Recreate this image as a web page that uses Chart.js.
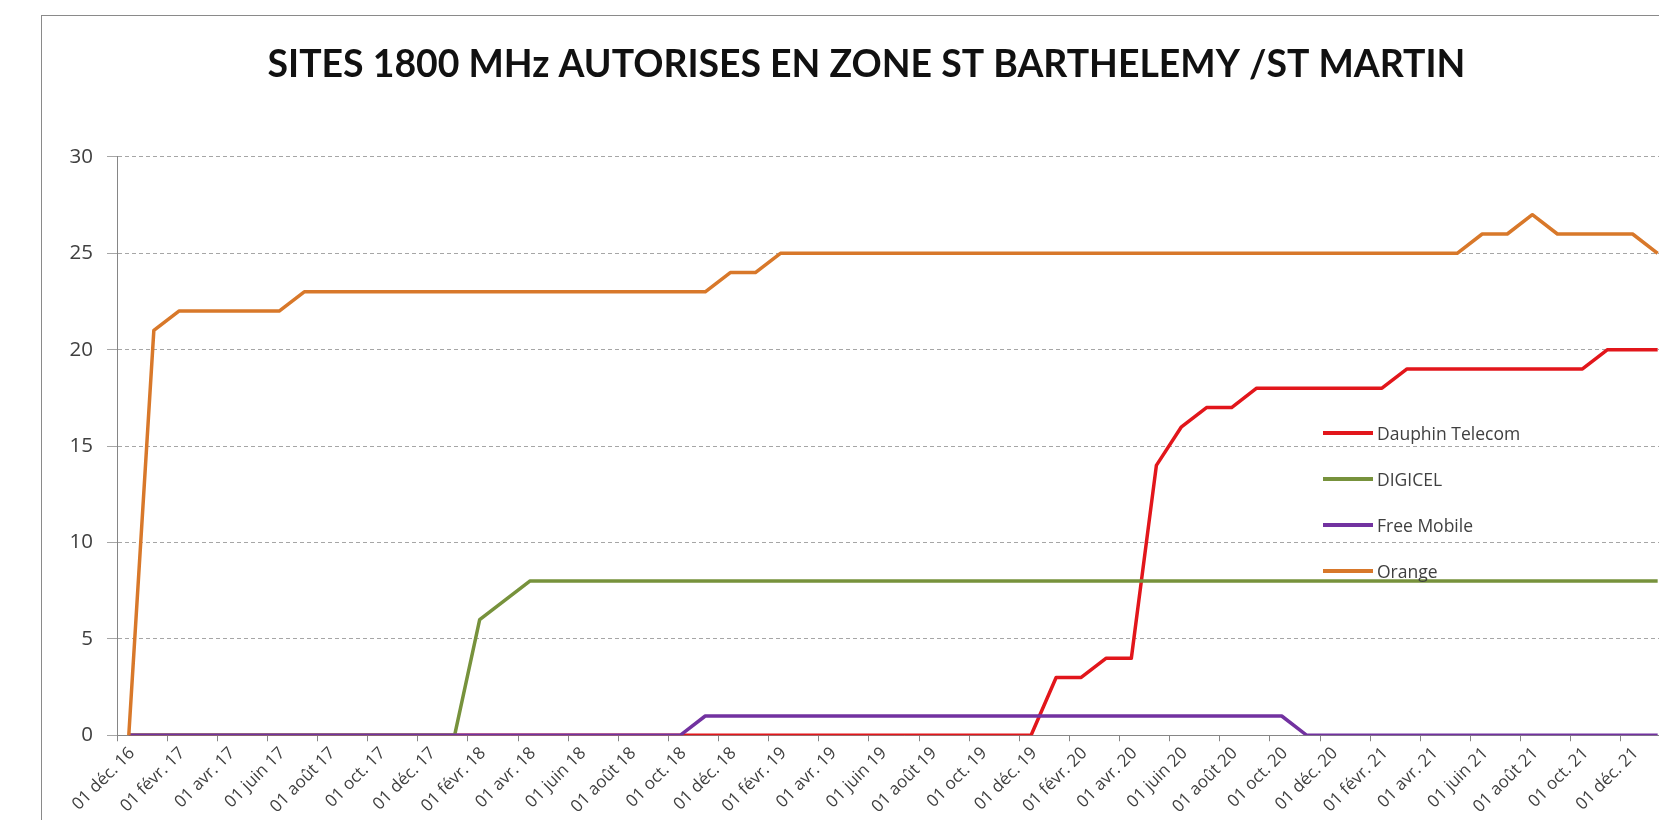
<!DOCTYPE html>
<html>
<head>
<meta charset="utf-8">
<script src="https://cdn.jsdelivr.net/npm/chart.js@4.4.1/dist/chart.umd.min.js"></script>
<style>
  html, body { margin: 0; padding: 0; background: #fff; }
  body { width: 1659px; height: 820px; overflow: hidden; position: relative; }
  #frame { position: absolute; left: 41px; top: 15px; width: 1650px; height: 830px; border: 1px solid #8a8a8a; background: #fff; }
  #legend { position: absolute; left: 1281px; top: 394px; font-family: 'Open Sans', sans-serif; font-size: 17.5px; color: #404040; }
  #legend .row { display: flex; align-items: center; height: 46px; }
  #legend .swatch { width: 50px; height: 4px; margin-right: 4px; }
</style>
</head>
<body>
<div id="frame">
  <canvas id="myChart" width="1650" height="803"></canvas>
  <div id="legend"></div>
</div>
<script>
// axis labels, one every two months
const tickLabels = [ '01 déc. 16', '01 févr. 17', '01 avr. 17', '01 juin 17', '01 août 17', '01 oct. 17',
	'01 déc. 17', '01 févr. 18', '01 avr. 18', '01 juin 18', '01 août 18', '01 oct. 18',
	'01 déc. 18', '01 févr. 19', '01 avr. 19', '01 juin 19', '01 août 19', '01 oct. 19',
	'01 déc. 19', '01 févr. 20', '01 avr. 20', '01 juin 20', '01 août 20', '01 oct. 20',
	'01 déc. 20', '01 févr. 21', '01 avr. 21', '01 juin 21', '01 août 21', '01 oct. 21',
	'01 déc. 21' ];

// monthly readings, mid-month, from déc. 16 to janv. 22
const dauphinData = [ 0, 0, 0, 0, 0, 0, 0, 0, 0, 0, 0, 0, 0, 0, 0, 0, 0, 0, 0, 0, 0, 0, 0, 0,
	0, 0, 0, 0, 0, 0, 0, 0, 0, 0, 0, 0, 0, 3, 3, 4, 4, 14, 16, 17, 17, 18, 18, 18,
	18, 18, 18, 19, 19, 19, 19, 19, 19, 19, 19, 20, 20, 20 ];
const digicelData = [ 0, 0, 0, 0, 0, 0, 0, 0, 0, 0, 0, 0, 0, 0, 6, 7, 8, 8, 8, 8, 8, 8, 8, 8,
	8, 8, 8, 8, 8, 8, 8, 8, 8, 8, 8, 8, 8, 8, 8, 8, 8, 8, 8, 8, 8, 8, 8, 8,
	8, 8, 8, 8, 8, 8, 8, 8, 8, 8, 8, 8, 8, 8 ];
const freeData = [ 0, 0, 0, 0, 0, 0, 0, 0, 0, 0, 0, 0, 0, 0, 0, 0, 0, 0, 0, 0, 0, 0, 0, 1,
	1, 1, 1, 1, 1, 1, 1, 1, 1, 1, 1, 1, 1, 1, 1, 1, 1, 1, 1, 1, 1, 1, 1, 0,
	0, 0, 0, 0, 0, 0, 0, 0, 0, 0, 0, 0, 0, 0 ];
const orangeData = [ 0, 21, 22, 22, 22, 22, 22, 23, 23, 23, 23, 23, 23, 23, 23, 23, 23, 23, 23, 23, 23, 23, 23, 23,
	24, 24, 25, 25, 25, 25, 25, 25, 25, 25, 25, 25, 25, 25, 25, 25, 25, 25, 25, 25, 25, 25, 25, 25,
	25, 25, 25, 25, 25, 25, 26, 26, 27, 26, 26, 26, 26, 25 ];

// reading day offset inside each month (the 15th)
const dayOffset = 0.47;

function toPoints(values) {
	return values.map((v, i) => ({ x: i + dayOffset, y: v }));
}

const ctx = document.getElementById('myChart').getContext('2d');

const chart = new Chart(ctx, {
	type: 'line',
	data: {
		datasets: [
			{ label: 'Dauphin Telecom', data: toPoints(dauphinData), borderColor: '#e2161b', order: 3 },
			{ label: 'DIGICEL', data: toPoints(digicelData), borderColor: '#77923c', order: 2 },
			{ label: 'Free Mobile', data: toPoints(freeData), borderColor: '#7232a0', order: 1 },
			{ label: 'Orange', data: toPoints(orangeData), borderColor: '#d8782a', order: 0 }
		]
	},
	options: {
		responsive: false,
		animation: false,
		devicePixelRatio: 1,
		elements: {
			point: { radius: 0 },
			line: { borderWidth: 3.5, tension: 0, borderJoinStyle: 'round' }
		},
		layout: { padding: { left: 0, right: 1, top: 0, bottom: 0 } },
		plugins: {
			legend: { display: false },
			tooltip: { enabled: false },
			title: {
				display: true,
				text: 'SITES 1800 MHz AUTORISES EN ZONE ST BARTHELEMY /ST MARTIN',
				color: '#111',
				font: { family: 'Lato', size: 37.4, weight: 'bold' },
				padding: { top: 26.5, bottom: 69.5 }
			}
		},
		scales: {
			x: {
				type: 'linear',
				min: 0,
				max: 62.8,
				grid: { drawOnChartArea: false, drawTicks: true, tickLength: 6, color: '#868686' },
				border: { display: true, color: '#868686' },
				ticks: {
					stepSize: 2,
					autoSkip: false,
					includeBounds: false,
					minRotation: 45,
					maxRotation: 45,
					padding: 2,
					labelOffset: 15,
					color: '#404040',
					font: { family: 'Open Sans', size: 17 },
					callback: (v) => tickLabels[v / 2] || ''
				}
			},
			y: {
				min: 0,
				max: 30,
				grid: { color: '#a6a6a6', tickLength: 10, tickBorderDash: [] },
				border: { display: true, color: '#868686', dash: [4, 3] },
				ticks: {
					stepSize: 5,
					padding: 14,
					color: '#404040',
					font: { family: 'Open Sans', size: 20.5 }
				},
				afterFit: (scale) => { scale.width = 75; }
			}
		}
	}
});

// legend placed inside the plot, as in the original
const legendBox = document.getElementById('legend');
chart.data.datasets.forEach((ds) => {
	const row = document.createElement('div');
	row.className = 'row';
	const sw = document.createElement('span');
	sw.className = 'swatch';
	sw.style.background = ds.borderColor;
	const txt = document.createElement('span');
	txt.textContent = ds.label;
	row.appendChild(sw);
	row.appendChild(txt);
	legendBox.appendChild(row);
});
</script>
</body>
</html>
